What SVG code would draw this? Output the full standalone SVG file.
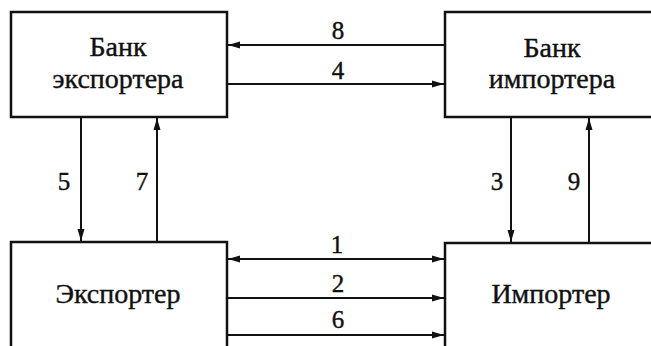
<svg xmlns="http://www.w3.org/2000/svg" width="651" height="346" viewBox="0 0 651 346">
<defs>
<style>
.box{fill:#fff;stroke:#111;stroke-width:2.5}
.t{font-size:28px;fill:#111;stroke:#111;stroke-width:0.4;text-anchor:middle}
.n{font-size:25px;fill:#111;stroke:#111;stroke-width:0.4;text-anchor:middle}
.c{stroke:#111;stroke-width:2;fill:none}
</style>
<marker id="ah" viewBox="0 0 12 8" refX="12" refY="4" markerWidth="12" markerHeight="8" markerUnits="userSpaceOnUse" orient="auto-start-reverse">
<path d="M0,0.5 L12,4 L0,7.5 Z" fill="#111"/>
</marker>
</defs>
<rect width="651" height="346" fill="#fff"/>
<g font-family="Liberation Serif, Times New Roman, DejaVu Serif, serif">
<g id="bank-exporter">
<rect class="box" x="11" y="12" width="216" height="105"/>
<text class="t" x="118" y="56">Банк</text>
<text class="t" x="118" y="88">экспортера</text>
</g>
<g id="bank-importer">
<rect class="box" x="445" y="12" width="220" height="105"/>
<text class="t" x="552" y="57">Банк</text>
<text class="t" x="552" y="88">импортера</text>
</g>
<g id="exporter">
<rect class="box" x="11" y="242" width="216" height="120"/>
<text class="t" x="118" y="303">Экспортер</text>
</g>
<g id="importer">
<rect class="box" x="445" y="243" width="220" height="120"/>
<text class="t" x="551" y="303">Импортер</text>
</g>
<g id="connectors">
<line class="c" x1="445" y1="45" x2="228" y2="45" marker-end="url(#ah)"/>
<line class="c" x1="228" y1="84" x2="444" y2="84" marker-end="url(#ah)"/>
<line class="c" x1="81" y1="118" x2="81" y2="241" marker-end="url(#ah)"/>
<line class="c" x1="157" y1="242" x2="157" y2="118" marker-end="url(#ah)"/>
<line class="c" x1="511" y1="118" x2="511" y2="242" marker-end="url(#ah)"/>
<line class="c" x1="589" y1="243" x2="589" y2="118" marker-end="url(#ah)"/>
<line class="c" x1="228" y1="259" x2="444" y2="259" marker-start="url(#ah)" marker-end="url(#ah)"/>
<line class="c" x1="228" y1="298" x2="444" y2="298" marker-end="url(#ah)"/>
<line class="c" x1="228" y1="335" x2="444" y2="335" marker-end="url(#ah)"/>
<text class="n" x="338" y="39">8</text>
<text class="n" x="338" y="79">4</text>
<text class="n" x="64" y="190">5</text>
<text class="n" x="142" y="190">7</text>
<text class="n" x="497" y="190">3</text>
<text class="n" x="574" y="190">9</text>
<text class="n" x="337" y="253">1</text>
<text class="n" x="338" y="292">2</text>
<text class="n" x="338" y="328">6</text>
</g>
</g>
</svg>
